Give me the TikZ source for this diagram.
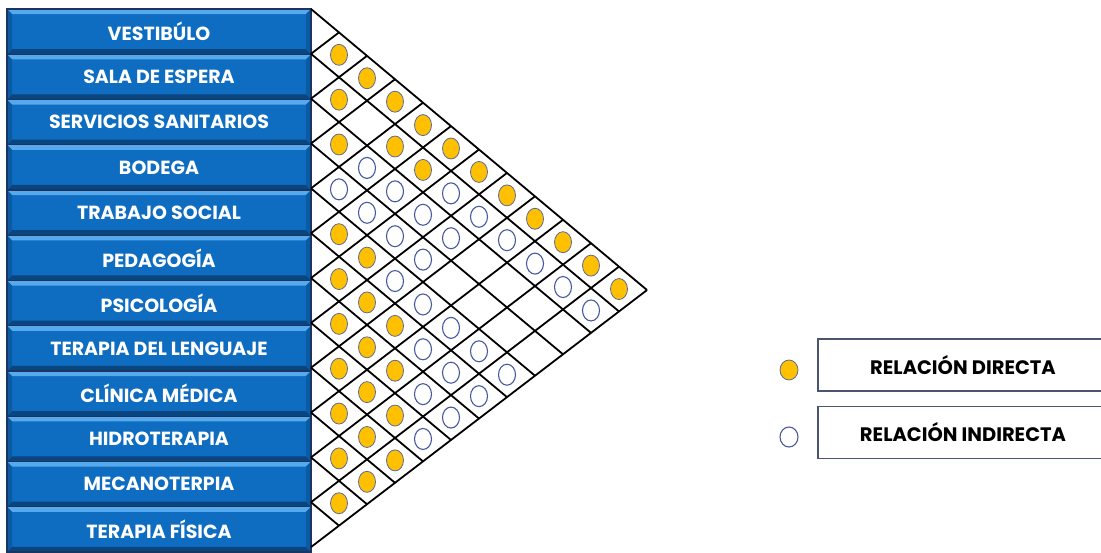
\documentclass[tikz,border=0pt]{standalone}
\usepackage{fontspec}
\newfontfamily\lblfont{Poppins}
\usetikzlibrary{shapes.geometric}
\definecolor{boxface}{HTML}{0E6DC0}
\definecolor{boxtop}{HTML}{55A9EC}
\definecolor{boxbot}{HTML}{0A4580}
\definecolor{boxside}{HTML}{0B5AA4}
\definecolor{boxedge}{HTML}{1C3560}
\definecolor{dotfill}{HTML}{FFC000}
\definecolor{dotedge}{HTML}{5A6A98}
\definecolor{circedge}{HTML}{4659A0}
\definecolor{legedge}{HTML}{4A5670}
\begin{document}
\begin{tikzpicture}[x=1pt,y=-1pt,
  lbl/.style={rectangle, minimum width=304pt, minimum height=45.2pt, inner sep=0pt,
    fill=boxface, draw=boxedge, line width=1.2pt, text=white,
    font=\lblfont\bfseries\fontsize{19}{20}\selectfont,
    path picture={
      \fill[boxtop] (path picture bounding box.north west) -- (path picture bounding box.north east)
        -- ([xshift=-5pt,yshift=-5pt]path picture bounding box.north east)
        -- ([xshift=5pt,yshift=-5pt]path picture bounding box.north west) -- cycle;
      \fill[boxbot] (path picture bounding box.south west) -- (path picture bounding box.south east)
        -- ([xshift=-5pt,yshift=5pt]path picture bounding box.south east)
        -- ([xshift=5pt,yshift=5pt]path picture bounding box.south west) -- cycle;
      \fill[boxside] (path picture bounding box.north west) -- (path picture bounding box.south west)
        -- ([xshift=5pt,yshift=5pt]path picture bounding box.south west)
        -- ([xshift=5pt,yshift=-5pt]path picture bounding box.north west) -- cycle;
      \fill[boxside] (path picture bounding box.north east) -- (path picture bounding box.south east)
        -- ([xshift=-5pt,yshift=5pt]path picture bounding box.south east)
        -- ([xshift=-5pt,yshift=-5pt]path picture bounding box.north east) -- cycle;
    }},
  gridline/.style={line width=1.8pt, black},
  ydot/.style={ellipse, minimum width=17pt, minimum height=21pt, inner sep=0pt, fill=dotfill, draw=dotedge, line width=0.8pt},
  bdot/.style={ellipse, minimum width=17pt, minimum height=21pt, inner sep=0pt, fill=white, draw=circedge, line width=1.1pt},
  legbox/.style={rectangle, minimum width=290pt, minimum height=52pt, inner sep=0pt, fill=white,
    draw=legedge, line width=1.6pt, text=black, font=\lblfont\bfseries\fontsize{19.5}{20}\selectfont},
]
\useasboundingbox (0,0) rectangle (1101,553);
\clip (0,0) rectangle (1101,553);

% label boxes
\foreach \t [count=\i from 0] in {VESTIBÚLO, SALA DE ESPERA, SERVICIOS SANITARIOS, BODEGA, TRABAJO SOCIAL, PEDAGOGÍA, PSICOLOGÍA, TERAPIA DEL LENGUAJE, CLÍNICA MÉDICA, HIDROTERAPIA, MECANOTERPIA, TERAPIA FÍSICA}{
  \node[lbl] (row\i) at (159, {9+45.25*(\i+0.5)}) {\t};
}

% grid vertices P(p,q)
\foreach \p in {0,...,12}{
  \foreach \q in {\p,...,12}{
    \coordinate (P-\p-\q) at ({311-28*\p+28*\q}, {9+21.42*\p+23.42*\q});
  }
}
% down-right lines and up-right lines
\foreach \k in {0,...,11}{
  \draw[gridline] (P-\k-\k) -- (P-\k-12);
}
\foreach \k in {1,...,12}{
  \draw[gridline] (P-\k-\k) -- (P-0-\k);
}

% direct relations
\foreach \d/\p [count=\n] in {1/0,1/1,1/2,1/4,1/5,1/6,1/7,1/8,1/9,1/10,
  2/0,2/4,2/5,2/6,2/7,2/8,2/9, 3/0,3/1,3/5,3/6,3/7,3/8, 4/0,4/1,
  5/0,6/0,7/0,8/0,9/0,10/0,11/0}{
  \node[ydot] (y\n) at ({311+28*\d}, {31.42+44.84*\p+23.42*\d}) {};
}
% indirect relations
\foreach \d/\p [count=\n] in {1/3, 2/2,2/3, 3/2,3/3,3/4, 4/2,4/3,4/4,4/5,4/6,4/7,
  5/1,5/2,5/4,5/5,5/6, 6/1,6/4,6/5, 7/1,7/4, 8/1, 9/1, 10/1}{
  \node[bdot] (b\n) at ({311+28*\d}, {31.42+44.84*\p+23.42*\d}) {};
}

% legend
\node[ydot, minimum width=18pt, minimum height=20pt] (legy) at (789,370) {};
\node[bdot, minimum width=18pt, minimum height=20pt] (legb) at (789,437) {};
\node[legbox] (leg1) at (963,365) {RELACIÓN DIRECTA};
\node[legbox] (leg2) at (963,432.5) {RELACIÓN INDIRECTA};
\end{tikzpicture}
\end{document}
